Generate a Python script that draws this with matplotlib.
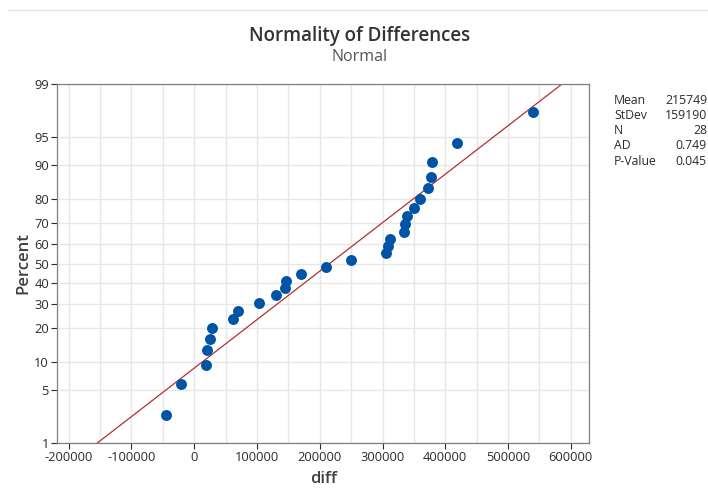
import matplotlib
matplotlib.use("Agg")
import matplotlib.pyplot as plt
import numpy as np
from statistics import NormalDist

# differences, sorted
diff = [-45100, -21700, 19500, 20000, 24500, 28200, 61200, 69200, 102700,
        130700, 144100, 145700, 170600, 209900, 249800, 305100, 308300,
        311500, 334300, 335900, 339100, 350700, 359800, 372500, 377800,
        378300, 418800, 540300]

pct_ticks = [1, 5, 10, 20, 30, 40, 50, 60, 70, 80, 90, 95, 99]
x_ticks = [-200000, -100000, 0, 100000, 200000, 300000, 400000, 500000, 600000]

stat_names = ["Mean", "StDev", "N", "AD", "P-Value"]
stat_vals = ["215749", "159190", "28", "0.749", "0.045"]
mean, sd = 215749, 159190

nd = NormalDist()
n = len(diff)
# median ranks, as Minitab does
p = [(i - 0.3) / (n + 0.4) for i in range(1, n + 1)]
z = [nd.inv_cdf(v) for v in p]

plt.rcParams['font.family'] = ['Open Sans', 'DejaVu Sans']
txt = '#2b2b2b'

fig = plt.figure(figsize=(7.08, 4.88), dpi=100)
ax = fig.add_axes([0.081, 0.092, 0.751, 0.736])

zlo, zhi = nd.inv_cdf(0.01), nd.inv_cdf(0.99)
ax.set_ylim(zlo, zhi)
ax.set_xlim(-218000, 629000)

# fitted line
zz = np.array([zlo, zhi])
ax.plot(mean + zz * sd, zz, color='#b03030', lw=0.9, zorder=2)

ax.scatter(diff, z, s=62, color='#0054a6', zorder=3, linewidths=0)

ax.set_yticks([nd.inv_cdf(t / 100) for t in pct_ticks])
ax.set_yticklabels([str(t) for t in pct_ticks])
ax.set_xticks(x_ticks)
ax.set_xticklabels([str(t) for t in x_ticks])
ax.set_xticks(np.arange(-150000, 600001, 100000), minor=True)
ax.tick_params(axis='x', which='minor', length=0)
ax.grid(True, which='both', color='#e6e6e6', lw=1, zorder=0)
ax.set_axisbelow(True)
ax.tick_params(labelsize=9.3, colors=txt, length=4, width=0.8, pad=2)
for s in ax.spines.values():
    s.set_color('#7f7f7f')
    s.set_linewidth(0.9)

ax.set_xlabel('diff', fontsize=12, color='#404040', labelpad=5,
              fontweight='semibold')
ax.set_ylabel('Percent', fontsize=12, color='#404040', labelpad=2,
              fontweight='semibold')

fig.text(0.508, 0.926, 'Normality of Differences', ha='center', va='center',
         fontsize=13.5, color='#333333', fontweight='semibold')
fig.text(0.508, 0.883, 'Normal', ha='center', va='center',
         fontsize=11.5, color='#555555')

# header rule
fig.add_artist(plt.Line2D([0.012, 1.0], [0.979, 0.979], color='#e0e0e0', lw=1))

# stats table
for k, (nm, v) in enumerate(zip(stat_names, stat_vals)):
    yy = 1 - (100 + k * 15.3) / 488
    fig.text(614 / 708, yy, nm, fontsize=8.8, color=txt, va='center')
    fig.text(707 / 708, yy, v, fontsize=8.8, color=txt, va='center', ha='right')

fig.savefig('out.png', dpi=100)
